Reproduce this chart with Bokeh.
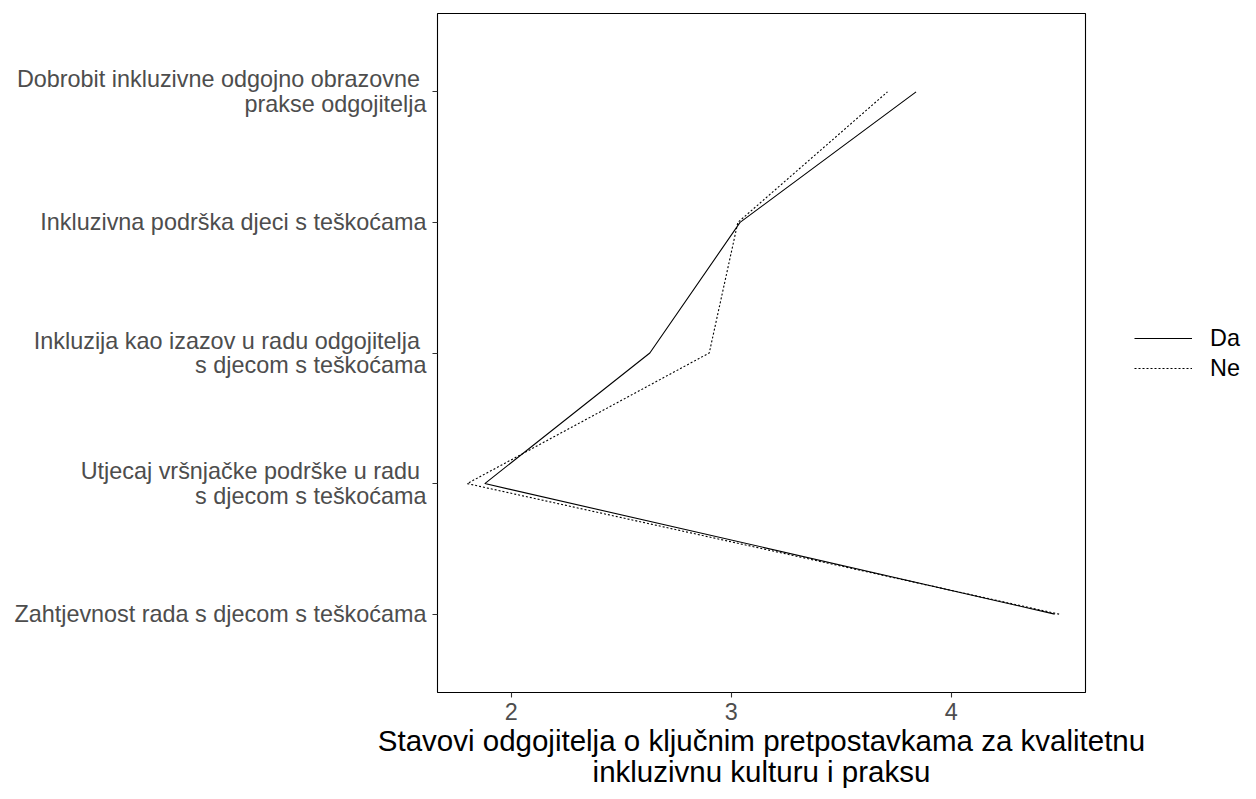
from bokeh.plotting import figure
from bokeh.models import FixedTicker, Range1d, Legend, LegendItem, ColumnDataSource
from bokeh.embed import file_html
from bokeh.resources import INLINE

categories = [
    "Zahtjevnost rada s djecom s teškoćama",
    "Utjecaj vršnjačke podrške u radu \ns djecom s teškoćama",
    "Inkluzija kao izazov u radu odgojitelja \ns djecom s teškoćama",
    "Inkluzivna podrška djeci s teškoćama",
    "Dobrobit inkluzivne odgojno obrazovne \nprakse odgojitelja",
]
cat_pos = [1, 2, 3, 4, 5]
da_values = [4.47, 1.88, 2.63, 3.04, 3.84]
ne_values = [4.49, 1.80, 2.90, 3.03, 3.71]
x_ticks = [2, 3, 4]
x_title = "Stavovi odgojitelja o ključnim pretpostavkama za kvalitetnu\ninkluzivnu kulturu i praksu"
series_names = ["Da", "Ne"]

FONT = "Liberation Sans"
TICK_SIZE = "23.4px"

p = figure(frame_width=648, frame_height=679, output_backend="svg", toolbar_location=None,
           x_range=Range1d(1.665, 4.61), y_range=Range1d(0.4, 5.6),
           min_border_left=437, min_border_right=0, min_border_top=13, min_border_bottom=0)
p.background_fill_color = "white"
p.border_fill_color = "white"
p.outline_line_color = "black"
p.outline_line_width = 1.1
p.xgrid.visible = False
p.ygrid.visible = False

src_da = ColumnDataSource(dict(x=da_values, y=cat_pos))
src_ne = ColumnDataSource(dict(x=ne_values, y=cat_pos))
r_da = p.line("x", "y", source=src_da, line_color="black", line_width=1.1)
r_ne = p.line("x", "y", source=src_ne, line_color="black", line_width=1.1, line_dash="2 2")

for ax in (p.xaxis[0], p.yaxis[0]):
    ax.axis_line_color = None
    ax.major_tick_line_color = "#333333"
    ax.major_tick_line_width = 1.1
    ax.major_tick_out = 5
    ax.major_tick_in = 0
    ax.minor_tick_line_color = None
    ax.major_label_text_font = FONT
    ax.major_label_text_font_size = TICK_SIZE
    ax.major_label_text_color = "#4d4d4d"

p.xaxis.ticker = FixedTicker(ticks=x_ticks)
p.xaxis.major_label_standoff = 5
p.xaxis.axis_label = x_title
p.xaxis.axis_label_text_font = FONT
p.xaxis.axis_label_text_font_size = "29.5px"
p.xaxis.axis_label_text_font_style = "normal"
p.xaxis.axis_label_text_color = "black"
p.xaxis.axis_label_text_line_height = 0.95
p.xaxis.axis_label_standoff = 1

p.yaxis.ticker = FixedTicker(ticks=cat_pos)
p.yaxis.major_label_overrides = {pos: lab for pos, lab in zip(cat_pos, categories)}
p.yaxis.major_label_standoff = 6
p.yaxis.major_label_text_line_height = 0.95

legend = Legend(items=[LegendItem(label=series_names[0], renderers=[r_da]),
                       LegendItem(label=series_names[1], renderers=[r_ne])],
                location=(49, 309))
legend.margin = 0
legend.padding = 0
legend.border_line_color = None
legend.background_fill_alpha = 0
legend.glyph_width = 58
legend.glyph_height = 30
legend.label_height = 30
legend.spacing = 0
legend.label_standoff = 18
legend.label_text_font = FONT
legend.label_text_font_size = TICK_SIZE
legend.label_text_color = "black"
p.add_layout(legend, "right")

open("out.html", "w").write(file_html(p, INLINE))
